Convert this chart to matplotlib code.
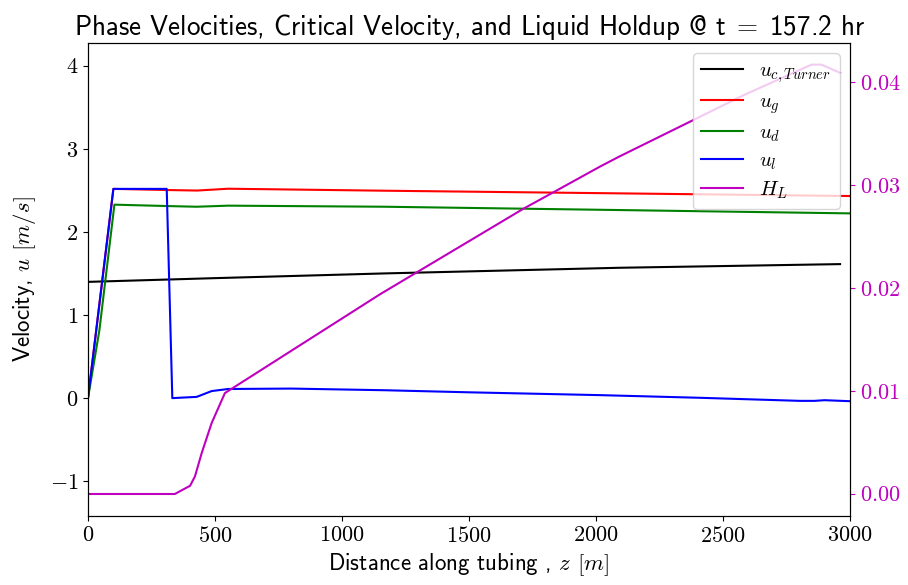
import matplotlib
matplotlib.use("Agg")
import matplotlib.pyplot as plt
from matplotlib.ticker import FuncFormatter

plt.rcParams['mathtext.fontset'] = 'cm'
plt.rcParams['font.family'] = ['cmss10', 'DejaVu Sans']
plt.rcParams['axes.unicode_minus'] = True

# cell-centre quantities
z_cell = [0, 500, 1169, 2094, 2961]
u_c = [1.40, 1.445, 1.502, 1.570, 1.614]

z_hl = [0, 342, 402, 421, 448, 487, 539, 1150, 1714, 1825, 2016, 2094,
        2390, 2587, 2849, 2888, 2961]
H_L = [0.0, 0.0, 0.0008, 0.0017, 0.0040, 0.0069, 0.0098, 0.0194, 0.0277,
       0.0292, 0.0318, 0.0328, 0.0364, 0.0388, 0.0417, 0.0417, 0.0409]

# face quantities
z_g = [0, 100, 316, 430, 552, 1169, 2094, 3000]
u_g = [0.0, 2.52, 2.506, 2.50, 2.522, 2.498, 2.466, 2.434]

z_d = [0, 45, 104, 316, 428, 552, 1169, 2094, 3000]
u_d = [0.0, 0.82, 2.33, 2.313, 2.305, 2.318, 2.305, 2.265, 2.225]

z_l = [0, 100, 310, 332, 428, 487, 552, 800, 1169, 1500, 2016, 2409, 2803,
       2860, 2900, 3000]
u_l = [0.0, 2.52, 2.52, 0.0, 0.015, 0.085, 0.11, 0.115, 0.095, 0.07, 0.036,
       0.004, -0.033, -0.033, -0.025, -0.037]

fig = plt.figure(figsize=(9.08, 5.85), dpi=100)
ax = fig.add_axes([0.0969, 0.1179, 0.8392, 0.8086])
ax2 = ax.twinx()

l1, = ax.plot(z_cell, u_c, 'k', label=r'$u_{c,Turner}$')
l2, = ax.plot(z_g, u_g, 'r', label=r'$u_g$')
l3, = ax.plot(z_d, u_d, 'g', label=r'$u_d$')
l4, = ax.plot(z_l, u_l, 'b', label=r'$u_l$')
l5, = ax2.plot(z_hl, H_L, 'm', label=r'$H_L$')

ax.set_xlim(0, 3000)
ax.set_ylim(-1.42, 4.277)
ax2.set_ylim(-0.00214, 0.0438)
ax.set_yticks([-1, 0, 1, 2, 3, 4])
ax2.set_yticks([0.0, 0.01, 0.02, 0.03, 0.04])

ax.xaxis.set_major_formatter(FuncFormatter(lambda v, p: r'$%d$' % v))
ax.yaxis.set_major_formatter(FuncFormatter(lambda v, p: r'$%d$' % v))
ax2.yaxis.set_major_formatter(FuncFormatter(lambda v, p: r'$%.2f$' % v))
ax.tick_params(labelsize=16)
ax2.tick_params(labelsize=16, colors='m')

ax.set_xlabel(r'Distance along tubing , $z$ $[m]$', fontsize=16.5)
ax.set_ylabel(r'Velocity, $u$ $[m/s]$', fontsize=16.5, labelpad=8)
ax.set_title(r'Phase Velocities, Critical Velocity, and Liquid Holdup @ t$\;=\;$157.2 hr',
             fontsize=19.5)

ax2.legend(handles=[l1, l2, l3, l4, l5], loc='upper right', fontsize=15,
           labelspacing=0.35)

fig.savefig('out.png', dpi=100)
